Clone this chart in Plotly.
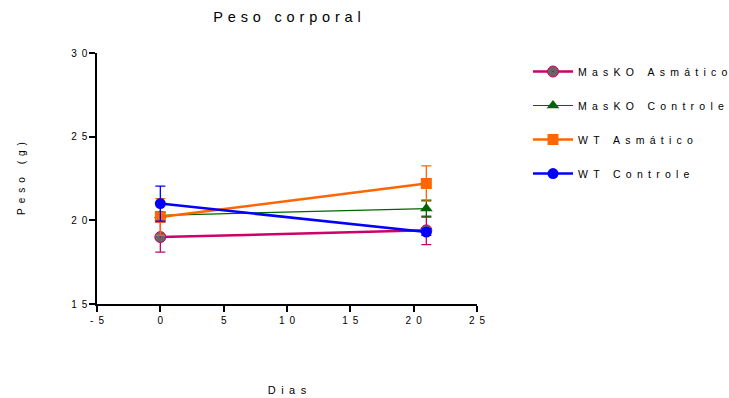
import plotly.graph_objects as go

days = [0, 21]
names = ["WT Controle", "WT Asmático", "MasKO Controle", "MasKO Asmático"]
means = [
    [21.0, 19.3],
    [20.2, 22.2],
    [20.3, 20.7],
    [19.0, 19.4],
]
errs = [
    [1.05, 0.2],
    [1.1, 1.05],
    [0.2, 0.5],
    [0.9, 0.85],
]
colors = ["#0000FF", "#FF6600", "#006400", "#CC0066"]
marker_colors = ["#0000FF", "#FF6600", "#006400", "#666666"]
symbols = ["circle", "square", "triangle-up", "circle-dot"]
widths = [2.5, 2.5, 1.2, 2.5]

xticks = [-5, 0, 5, 10, 15, 20, 25]
yticks = [15, 20, 25, 30]

NB = "\u00a0"
EN = "\u2002"   # en space, 0.5em
TPE = "\u2004"  # three-per-em space


def sp(s, gap=EN):
    return gap.join(list(s.replace(" ", NB)))


W, H = 729, 398
L, R, T, B = 97, W - 477, 53, H - 304

fig = go.Figure()
# draw last series first so WT Controle sits on top; legend order reversed back
for i in reversed(range(len(names))):
    fig.add_trace(go.Scatter(
        x=days, y=means[i], name=sp(names[i]), mode="lines+markers",
        legendgroup=str(i),
        line=dict(color=colors[i], width=widths[i]),
        marker=dict(symbol=symbols[i], size=11, color=marker_colors[i],
                    line=dict(color=colors[i], width=1 if i == 3 else 0)),
        error_y=dict(type="data", array=errs[i], color=colors[i], thickness=1.3, width=5),
    ))

font = "Liberation Sans, Arial, sans-serif"
fig.update_layout(
    width=W, height=H,
    margin=dict(l=L, r=R, t=T, b=B, autoexpand=False),
    plot_bgcolor="white", paper_bgcolor="white",
    font=dict(family=font, size=10, color="black"),
    title=dict(text=sp("Peso corporal", TPE), x=287 / W, xanchor="center",
               y=1 - 17 / H, yanchor="middle", font=dict(size=14.5)),
    showlegend=True,
    legend=dict(x=1 + 51 / 380, y=0.984, xanchor="left", yanchor="top",
                traceorder="reversed+grouped", tracegroupgap=15,
                font=dict(size=10.5), itemwidth=40, bgcolor="rgba(0,0,0,0)"),
    xaxis=dict(range=[-5, 25], tickvals=xticks, ticktext=[sp(str(v)) for v in xticks],
               showline=True, linecolor="black", linewidth=1.5, ticks="outside",
               ticklen=6, tickwidth=1.5, tickcolor="black", showgrid=False, zeroline=False,
               tickfont=dict(size=10), automargin=False,
               title=dict(text=sp("Dias"), standoff=62, font=dict(size=11))),
    yaxis=dict(range=[15, 30], tickvals=yticks, ticktext=[sp(str(v)) for v in yticks],
               showline=True, linecolor="black", linewidth=1.5, ticks="outside",
               ticklen=6, tickwidth=1.5, tickcolor="black", showgrid=False, zeroline=False,
               tickfont=dict(size=10), automargin=False,
               title=dict(text=sp("Peso (g)"), standoff=44, font=dict(size=10))),
)
fig.write_html("out.html", config={"displayModeBar": False},
               post_script="document.body.style.margin='0';")
